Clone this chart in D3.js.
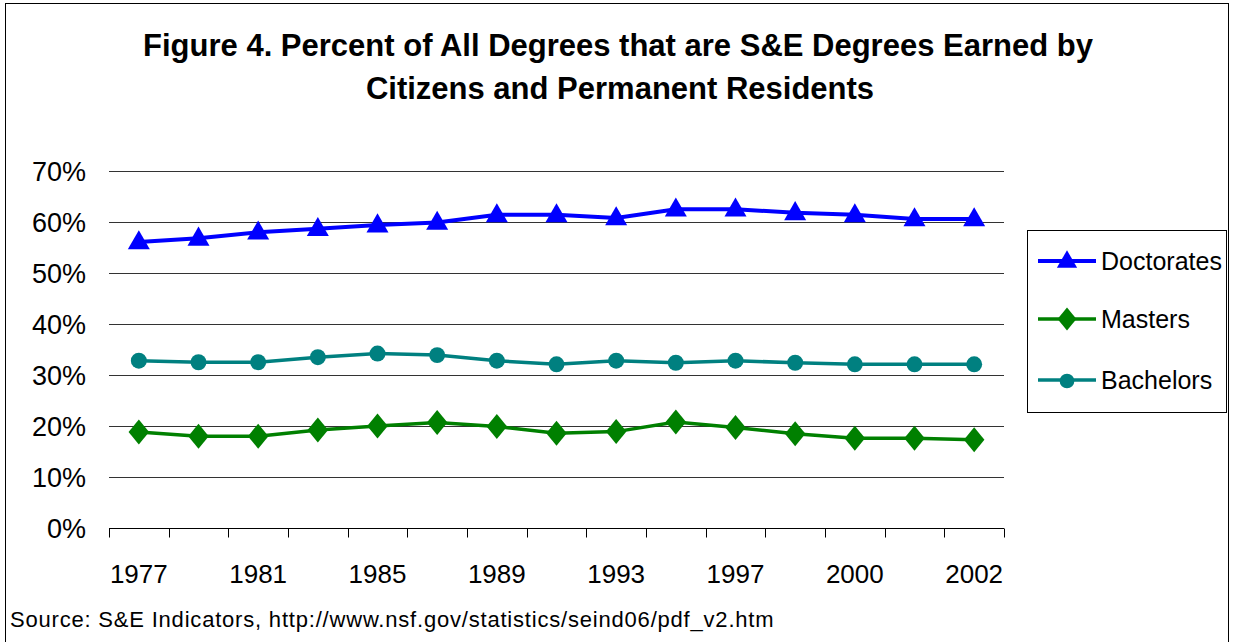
<!DOCTYPE html>
<html><head><meta charset="utf-8">
<script src="https://cdn.jsdelivr.net/npm/d3@7"></script>
<style>body{margin:0;background:#fff}svg{display:block}text{font-family:"Liberation Sans",Arial,sans-serif}</style>
</head><body><svg id="c" width="1233" height="642"></svg>
<script>
const years = ["1977","1979","1981","1983","1985","1987","1989","1991","1993","1995","1997","1998","2000","2001","2002"];
const shownYears = ["1977","1981","1985","1989","1993","1997","2000","2002"];
const doctorates = [56.1,56.8,58.0,58.7,59.4,59.9,61.4,61.4,60.8,62.5,62.5,61.8,61.4,60.6,60.6];
const masters = [18.8,18.0,18.0,19.2,20.0,20.7,19.9,18.6,18.9,20.8,19.7,18.5,17.6,17.6,17.3];
const bachelors = [32.8,32.5,32.5,33.5,34.2,33.9,32.8,32.1,32.8,32.4,32.8,32.4,32.1,32.1,32.1];
const yTicks = [0,10,20,30,40,50,60,70];
const seriesNames = ["Doctorates","Masters","Bachelors"];

const svg = d3.select("#c");
svg.append("rect").attr("x",5.5).attr("y",3.5).attr("width",1223).attr("height",650).attr("fill","#fff").attr("stroke","#000").attr("stroke-width",1);

svg.append("text").attr("x",618).attr("y",56).attr("text-anchor","middle").attr("font-size",31).attr("font-weight","bold")
  .text("Figure 4. Percent of All Degrees that are S&E Degrees Earned by");
svg.append("text").attr("x",620).attr("y",99).attr("text-anchor","middle").attr("font-size",31).attr("font-weight","bold")
  .text("Citizens and Permanent Residents");

const x = d3.scaleBand().domain(years).range([109,1004]).padding(0);
const y = d3.scaleLinear().domain([0,70]).range([528,171]);

const g = svg.append("g");
g.selectAll("line.grid").data(yTicks.filter(d=>d>0)).join("line")
  .attr("x1",109).attr("x2",1004).attr("y1",d=>Math.round(y(d))+0.5).attr("y2",d=>Math.round(y(d))+0.5)
  .attr("stroke","#333").attr("stroke-width",1);

const yAxis = g.append("g").attr("transform","translate(109,0)")
  .call(d3.axisLeft(y).tickValues(yTicks).tickFormat(d=>d+"%").tickSize(0).tickPadding(23));
yAxis.select(".domain").remove();
yAxis.selectAll("text").attr("font-size",27).attr("font-family","Liberation Sans, Arial, sans-serif").attr("fill","#000").attr("dy","0.36em");

const xAxis = g.append("g").attr("transform","translate(0,"+(Math.round(y(0))+0.5)+")")
  .call(d3.axisBottom(x).tickValues(shownYears).tickSize(0).tickPadding(36));
xAxis.select(".domain").attr("stroke","#000").attr("d","M109,0H1004");
xAxis.selectAll("text").attr("font-size",26).attr("font-family","Liberation Sans, Arial, sans-serif").attr("fill","#000");
const bounds = years.map(d=>x(d)).concat([x(years[years.length-1])+x.bandwidth()]);
xAxis.selectAll("line.tk").data(bounds).join("line").attr("class","tk")
  .attr("x1",d=>Math.round(d)+0.5).attr("x2",d=>Math.round(d)+0.5).attr("y1",0).attr("y2",9).attr("stroke","#000");

const cx = d=>x(d)+x.bandwidth()/2;
const line = d3.line().x((v,i)=>cx(years[i])).y(v=>y(v));

const series = [
  {name:"Doctorates", vals:doctorates, color:"#0000ff", sym:d3.symbolTriangle, size:210, w:4},
  {name:"Masters", vals:masters, color:"#008000", sym:d3.symbolDiamond, size:200, w:3.5},
  {name:"Bachelors", vals:bachelors, color:"#008080", sym:d3.symbolCircle, size:200, w:3.5}
];
series.forEach(s=>{
  g.append("path").attr("d",line(s.vals)).attr("fill","none").attr("stroke",s.color).attr("stroke-width",s.w);
  const sym = d3.symbol().type(s.sym).size(s.size);
  g.selectAll(null).data(s.vals).join("path")
    .attr("transform",(v,i)=>{
      const sx = cx(years[i]), sy=y(v);
      return s.sym===d3.symbolDiamond ? `translate(${sx},${sy}) scale(1.35,0.95)` : s.sym===d3.symbolTriangle ? `translate(${sx},${sy+1})` : `translate(${sx},${sy})`;
    })
    .attr("d",sym()).attr("fill",s.color);
});

const lg = svg.append("g");
lg.append("rect").attr("x",1027.5).attr("y",230.5).attr("width",199).attr("height",182).attr("fill","#fff").attr("stroke","#000");
const ly = [261,319,380];
series.forEach((s,i)=>{
  lg.append("line").attr("x1",1038).attr("x2",1096).attr("y1",ly[i]).attr("y2",ly[i]).attr("stroke",s.color).attr("stroke-width",s.w);
  const sym = d3.symbol().type(s.sym).size(s.size*0.85);
  lg.append("path").attr("d",sym()).attr("fill",s.color)
    .attr("transform", s.sym===d3.symbolDiamond ? `translate(1067,${ly[i]}) scale(1.35,0.95)` : `translate(1067,${ly[i]+1})`);
  lg.append("text").attr("x",1101).attr("y",ly[i]).attr("dy","0.36em").attr("font-size",25).text(s.name);
});

svg.append("text").attr("x",10).attr("y",627).attr("font-size",22).attr("letter-spacing",0.8)
  .text("Source: S&E Indicators, http://www.nsf.gov/statistics/seind06/pdf_v2.htm");
</script></body></html>
